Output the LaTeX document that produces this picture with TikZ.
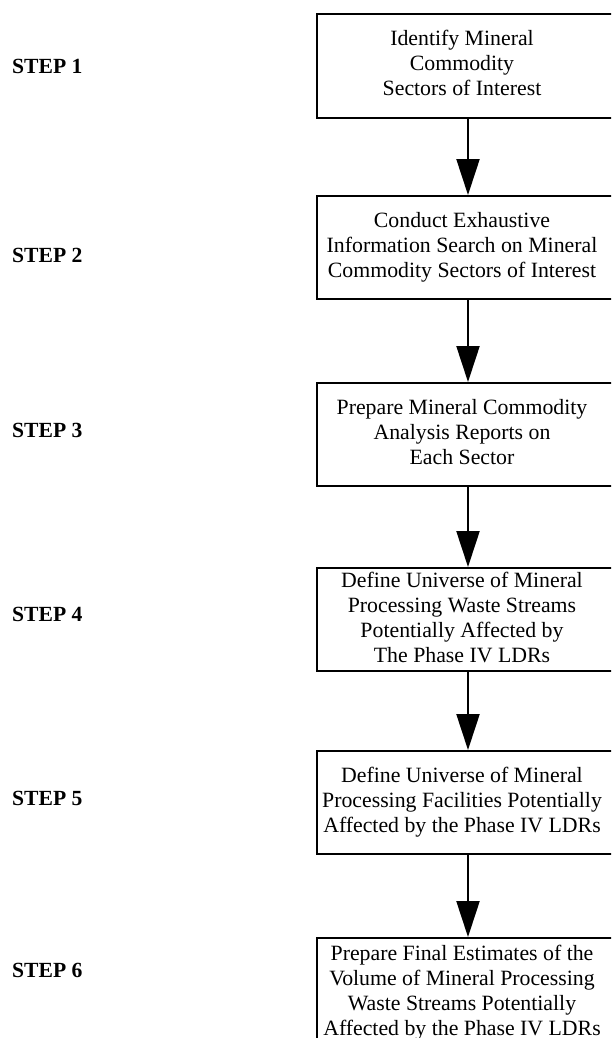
\documentclass[tikz,border=0pt]{standalone}
\usepackage{fontspec}
\setmainfont{Liberation Serif}
\usetikzlibrary{arrows.meta,calc}
\newcommand{\boxtext}[1]{\begin{tabular}{@{}c@{\hspace{10pt}}}#1\end{tabular}}
\begin{document}
\begin{tikzpicture}[x=1pt,y=-1pt,
  stepbox/.style={draw=black, line width=2pt, anchor=north, minimum width=300pt,
    inner sep=0pt, align=center, font=\fontsize{21.8}{25}\selectfont},
  steplabel/.style={anchor=west, inner sep=0pt, font=\fontsize{21.6}{25}\selectfont\bfseries},
  flow/.style={line width=2.2pt, -{Triangle[length=36pt,width=23pt]}}]
\useasboundingbox (0,0) rectangle (611,1038);
\clip (0,0) rectangle (611,1038);
\fill[white] (0,0) rectangle (611,1038);

\node[stepbox, minimum height=104pt] (b1) at (467,13)
  {\boxtext{Identify Mineral\\Commodity\\Sectors of Interest}};
\node[stepbox, minimum height=103pt] (b2) at (467,195)
  {\boxtext{Conduct Exhaustive\\Information Search on Mineral\\Commodity Sectors of Interest}};
\node[stepbox, minimum height=103pt] (b3) at (467,382)
  {\boxtext{Prepare Mineral Commodity\\Analysis Reports on\\Each Sector}};
\node[stepbox, minimum height=103pt] (b4) at (467,567)
  {\boxtext{Define Universe of Mineral\\Processing Waste Streams\\Potentially Affected by\\The Phase IV LDRs}};
\node[stepbox, minimum height=103pt] (b5) at (467,750)
  {\boxtext{Define Universe of Mineral\\Processing Facilities Potentially\\Affected by the Phase IV LDRs}};
\node[stepbox, minimum height=110pt] (b6) at (467,937)
  {\boxtext{Prepare Final Estimates of the\\Volume of Mineral Processing\\Waste Streams Potentially\\Affected by the Phase IV LDRs}};

\node[steplabel] (s1) at (12,66) {STEP 1};
\node[steplabel] (s2) at (12,255) {STEP 2};
\node[steplabel] (s3) at (12,430) {STEP 3};
\node[steplabel] (s4) at (12,614) {STEP 4};
\node[steplabel] (s5) at (12,798) {STEP 5};
\node[steplabel] (s6) at (12,970) {STEP 6};

\coordinate (ax) at (468,0);
\draw[flow] (b1.south -| ax) -- (b2.north -| ax);
\draw[flow] (b2.south -| ax) -- (b3.north -| ax);
\draw[flow] (b3.south -| ax) -- (b4.north -| ax);
\draw[flow] (b4.south -| ax) -- (b5.north -| ax);
\draw[flow] (b5.south -| ax) -- (b6.north -| ax);
\end{tikzpicture}
\end{document}
